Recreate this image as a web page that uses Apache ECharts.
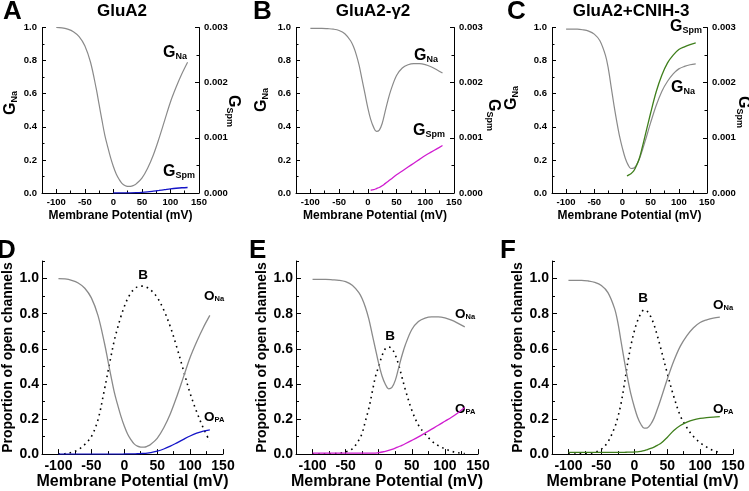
<!DOCTYPE html>
<html><head><meta charset="utf-8">
<script src="https://cdn.jsdelivr.net/npm/echarts@6/dist/echarts.min.js"></script>
<style>html,body{margin:0;padding:0;background:#fff}#c{width:749px;height:491px}</style>
</head><body><div id="c"></div>
<script>
// ---------- data ----------
const voltage = [-100,-90,-80,-70,-60,-50,-40,-30,-25,-20,-15,-10,-5,0,5,10,15,20,25,30,35,40,50,60,70,80,90,100,110,120,130];

// GluA2 (panels A and D)
const oNaGluA2  = [1.000,0.998,0.990,0.975,0.945,0.890,0.790,0.630,0.535,0.440,0.350,0.280,0.215,0.160,0.115,0.083,0.058,0.045,0.040,0.040,0.045,0.055,0.090,0.150,0.230,0.330,0.440,0.550,0.640,0.720,0.790];
const oPaGluA2  = [0,0,0,0,0,0,0,0,0,0,0,0,0,0.0005,0.001,0.001,0.0015,0.002,0.003,0.004,0.006,0.009,0.017,0.029,0.045,0.064,0.084,0.103,0.119,0.131,0.138];
const blockGluA2 = [0.000,0.002,0.010,0.025,0.055,0.100,0.195,0.370,0.465,0.560,0.650,0.720,0.785,0.840,0.885,0.917,0.940,0.953,0.957,0.956,0.949,0.936,0.893,0.821,0.725,0.606,0.476,0.347,0.241,0.149,0.072];
const spmVoltGluA2 = [0,10,20,30,40,50,60,70,80,90,100,110,120,130];
const gSpmGluA2 = [0.000000,0.000001,0.000002,0.000003,0.000006,0.000012,0.000021,0.000033,0.000046,0.000060,0.000074,0.000086,0.000095,0.000100];

// GluA2-γ2 (panels B and E)
const oNaGamma  = [0.995,0.995,0.995,0.993,0.990,0.982,0.962,0.920,0.885,0.835,0.770,0.685,0.600,0.515,0.445,0.398,0.372,0.380,0.420,0.490,0.560,0.620,0.710,0.755,0.775,0.782,0.782,0.776,0.763,0.745,0.725];
const oPaGamma  = [0.005,0.005,0.005,0.005,0.005,0.005,0.005,0.005,0.005,0.005,0.005,0.005,0.006,0.008,0.012,0.016,0.021,0.027,0.034,0.042,0.050,0.059,0.078,0.098,0.120,0.142,0.164,0.187,0.210,0.236,0.265];
const blockGamma = [0.000,0.000,0.001,0.002,0.005,0.012,0.030,0.080,0.120,0.190,0.260,0.350,0.440,0.500,0.560,0.600,0.610,0.600,0.565,0.510,0.440,0.370,0.250,0.165,0.115,0.075,0.048,0.030,0.016,0.008,0.003];
const spmVoltGamma = [5,10,15,20,25,30,35,40,50,60,70,80,90,100,110,120,130];
const gSpmGamma = [0.00005,0.00006,0.00008,0.00010,0.00013,0.00017,0.00021,0.00025,0.00033,0.00040,0.00047,0.00054,0.00061,0.00068,0.00074,0.00080,0.00086];

// GluA2+CNIH-3 (panels C and F)
const oNaCnih   = [0.990,0.990,0.990,0.986,0.978,0.960,0.920,0.830,0.750,0.640,0.530,0.430,0.340,0.270,0.210,0.170,0.148,0.150,0.170,0.205,0.255,0.310,0.425,0.530,0.615,0.675,0.720,0.750,0.765,0.775,0.780];
const oPaCnih   = [0.010,0.010,0.010,0.010,0.010,0.010,0.010,0.010,0.010,0.010,0.010,0.011,0.011,0.012,0.013,0.016,0.020,0.026,0.032,0.040,0.050,0.060,0.095,0.135,0.163,0.182,0.195,0.203,0.208,0.211,0.213];
const blockCnih = [0.000,0.000,0.002,0.004,0.010,0.028,0.070,0.150,0.210,0.290,0.400,0.520,0.620,0.700,0.760,0.800,0.822,0.812,0.783,0.737,0.675,0.606,0.462,0.328,0.218,0.150,0.100,0.065,0.040,0.020,0.010];
const spmVoltCnih = [8,10,15,20,25,30,35,40,50,60,70,80,90,100,110,120,130];
const gSpmCnih = [0.00031,0.00032,0.00035,0.00040,0.00050,0.00063,0.00082,0.00103,0.00145,0.00184,0.00214,0.00236,0.00250,0.00260,0.00265,0.00269,0.00272];

// axis ticks / labels
const xMajor = [-100,-50,0,50,100,150];
const xMinor = [-75,-25,25,75,125];
const yMajorBottom = [0,0.2,0.4,0.6,0.8,1.0];
const yMinorBottom = [0.1,0.3,0.5,0.7,0.9,1.1];

const titles = ['GluA2','GluA2-\u03b32','GluA2+CNIH-3'];
const letters = ['A','B','C','D','E','F'];

// ---------- build ----------
const FONT = '"Liberation Sans", Arial, Helvetica, sans-serif';
const GRAY = '#8a8a8a', BLUE = '#1414c8', MAGENTA = '#d01cd0', GREEN = '#3f7f1c';
const pairs = (xs, ys) => xs.map((x, i) => [x, ys[i]]);

const topGrids = [
  {left:42, top:27.5, width:157, height:165.5},
  {left:296, top:27.5, width:158, height:165.5},
  {left:552, top:27.5, width:155, height:165.5}
];
const botGrids = [
  {left:42, top:261, width:181, height:194},
  {left:296, top:261, width:182, height:194},
  {left:552, top:261, width:181, height:194}
];

const option = {animation:false, backgroundColor:'#fff', grid:[], xAxis:[], yAxis:[], series:[], graphic:[]};
const axLine = {show:true, onZero:false, lineStyle:{color:'#000', width:1}};
const noLine = {show:false, onZero:false};
const SMOOTH = 0.35;

function addXAxes(gi, big){
  option.xAxis.push({
    type:'value', gridIndex:gi, position:'bottom', min:-125, max:150,
    axisLine:axLine,
    axisTick:{show:true, inside:true, length: big?5:4, customValues:xMajor, lineStyle:{color:'#000'}},
    axisLabel:{show:true, customValues:xMajor, color:'#000', fontFamily:FONT, fontWeight:'bold', fontSize: big?14:9.5, margin: big?5:4},
    splitLine:{show:false},
    name:'Membrane Potential (mV)', nameLocation:'middle', nameGap: big?19:16.5,
    nameTextStyle:{color:'#000', fontFamily:FONT, fontWeight:'bold', fontSize: big?16:12}
  });
  const xi = option.xAxis.length-1;
  option.xAxis.push({
    type:'value', gridIndex:gi, position:'bottom', offset:0, min:-125, max:150,
    axisLine:noLine, axisLabel:{show:false}, splitLine:{show:false},
    axisTick:{show:true, inside:true, length: big?3:2.5, customValues:xMinor, lineStyle:{color:'#000'}}
  });
  return xi;
}

for (let p = 0; p < 3; p++) {
  option.grid.push(topGrids[p]);
  const gi = option.grid.length-1;
  const xi = addXAxes(gi, false);
  option.yAxis.push({
    type:'value', gridIndex:gi, position:'left', min:0, max:1, interval:0.2,
    axisLine:axLine,
    axisTick:{show:true, inside:true, length:4, lineStyle:{color:'#000'}},
    minorTick:{show:true, splitNumber:2, length:2.5, lineStyle:{color:'#000'}},
    axisLabel:{color:'#000', fontFamily:FONT, fontWeight:'bold', fontSize:9.5, margin:5, formatter:v=>v.toFixed(1)},
    splitLine:{show:false}, minorSplitLine:{show:false}
  });
  const yl = option.yAxis.length-1;
  option.yAxis.push({
    type:'value', gridIndex:gi, position:'right', min:0, max:0.003, interval:0.001,
    axisLine:axLine,
    axisTick:{show:true, inside:true, length:4, lineStyle:{color:'#000'}},
    minorTick:{show:true, splitNumber:2, length:2.5, lineStyle:{color:'#000'}},
    axisLabel:{color:'#000', fontFamily:FONT, fontWeight:'bold', fontSize:9.5, margin:5, formatter:v=>v.toFixed(3)},
    splitLine:{show:false}, minorSplitLine:{show:false}
  });
  const yr = option.yAxis.length-1;
  const na = [oNaGluA2, oNaGamma, oNaCnih][p];
  const spmX = [spmVoltGluA2, spmVoltGamma, spmVoltCnih][p];
  const spmY = [gSpmGluA2, gSpmGamma, gSpmCnih][p];
  const col = [BLUE, MAGENTA, GREEN][p];
  option.series.push({type:'line', xAxisIndex:xi, yAxisIndex:yl, data:pairs(voltage, na), showSymbol:false, smooth:SMOOTH, lineStyle:{color:GRAY, width:1.2}, silent:true});
  option.series.push({type:'line', xAxisIndex:xi, yAxisIndex:yr, data:pairs(spmX, spmY), showSymbol:false, smooth:SMOOTH, lineStyle:{color:col, width:1.3}, silent:true});
}

for (let p = 0; p < 3; p++) {
  option.grid.push(botGrids[p]);
  const gi = option.grid.length-1;
  const xi = addXAxes(gi, true);
  option.yAxis.push({
    type:'value', gridIndex:gi, position:'left', min:0, max:1.1,
    axisLine:axLine,
    axisTick:{show:true, inside:true, length:5, customValues:yMajorBottom, lineStyle:{color:'#000'}},
    axisLabel:{show:true, customValues:yMajorBottom, color:'#000', fontFamily:FONT, fontWeight:'bold', fontSize:14, margin:3, formatter:v=>v.toFixed(1)},
    splitLine:{show:false},
    name:'Proportion of open channels', nameLocation:'middle', nameGap:27,
    nameTextStyle:{color:'#000', fontFamily:FONT, fontWeight:'bold', fontSize:14}
  });
  const yl = option.yAxis.length-1;
  option.yAxis.push({
    type:'value', gridIndex:gi, position:'left', offset:0, min:0, max:1.1,
    axisLine:noLine, axisLabel:{show:false}, splitLine:{show:false},
    axisTick:{show:true, inside:true, length:3, customValues:yMinorBottom, lineStyle:{color:'#000'}}
  });
  const na = [oNaGluA2, oNaGamma, oNaCnih][p];
  const pa = [oPaGluA2, oPaGamma, oPaCnih][p];
  const bl = [blockGluA2, blockGamma, blockCnih][p];
  const col = [BLUE, MAGENTA, GREEN][p];
  option.series.push({type:'line', xAxisIndex:xi, yAxisIndex:yl, data:pairs(voltage, bl), showSymbol:false, smooth:SMOOTH, lineStyle:{color:'#000', width:1.6, type:[1.6,4]}, silent:true});
  option.series.push({type:'line', xAxisIndex:xi, yAxisIndex:yl, data:pairs(voltage, na), showSymbol:false, smooth:SMOOTH, lineStyle:{color:GRAY, width:1.3}, silent:true});
  option.series.push({type:'line', xAxisIndex:xi, yAxisIndex:yl, data:pairs(voltage, pa), showSymbol:false, smooth:SMOOTH, lineStyle:{color:col, width:1.3}, silent:true});
}

// ---------- text ----------
function richText(main, sub, big){
  return {
    text: '{m|' + main + '}' + (sub ? '{s|' + sub + '}' : ''),
    rich: {
      m:{fontFamily:FONT, fontWeight:'bold', fontSize: big?16:13.5, lineHeight: big?17:14, fill:'#000', color:'#000'},
      s:{fontFamily:FONT, fontWeight:'bold', fontSize: big?9:7.5, lineHeight: big?9:8, verticalAlign:'bottom', fill:'#000', color:'#000'}
    }
  };
}
function addText(x, y, main, sub, big, align, rot){
  const st = richText(main, sub, big);
  option.graphic.push({type:'text', x:x, y:y, rotation: rot||0, silent:true,
    style:Object.assign(st, {align: align||'left', verticalAlign:'middle'})});
}
// panel letters and titles
const letterPos = [[3,12],[253,12],[507,12],[-3,251],[249,251],[500,251]];
letters.forEach((L,i)=>option.graphic.push({type:'text', x:letterPos[i][0], y:letterPos[i][1], silent:true,
  style:{text:L, fontFamily:FONT, fontWeight:'bold', fontSize:26, fill:'#000', align:'left', verticalAlign:'middle'}}));
const titlePos = [[122,11],[373,11],[631,11]];
titles.forEach((t,i)=>option.graphic.push({type:'text', x:titlePos[i][0], y:titlePos[i][1], silent:true,
  style:{text:t, fontFamily:FONT, fontWeight:'bold', fontSize:17, fill:'#000', align:'center', verticalAlign:'middle'}}));

// rotated axis titles (top panels)
[[11,103],[262,100],[512,98]].forEach(p=>addText(p[0], p[1], 'G', 'Na', true, 'center', Math.PI/2));
[[233,111],[493,115],[743,112]].forEach(p=>addText(p[0], p[1], 'G', 'Spm', true, 'center', -Math.PI/2));

// curve annotations
addText(163, 53, 'G', 'Na', true);  addText(163, 172, 'G', 'Spm', true);
addText(414, 56, 'G', 'Na', true);  addText(413, 131, 'G', 'Spm', true);
addText(670, 27, 'G', 'Spm', true); addText(671, 88, 'G', 'Na', true);
addText(143, 275, 'B', '', false, 'center'); addText(204, 296, 'O', 'Na', false); addText(204, 417, 'O', 'PA', false);
addText(390, 336, 'B', '', false, 'center'); addText(455, 314, 'O', 'Na', false); addText(455, 409, 'O', 'PA', false);
addText(643, 298, 'B', '', false, 'center'); addText(713, 305, 'O', 'Na', false); addText(713, 409, 'O', 'PA', false);

const chart = echarts.init(document.getElementById('c'), null, {renderer:'canvas'});
chart.setOption(option);
</script>
</body></html>
